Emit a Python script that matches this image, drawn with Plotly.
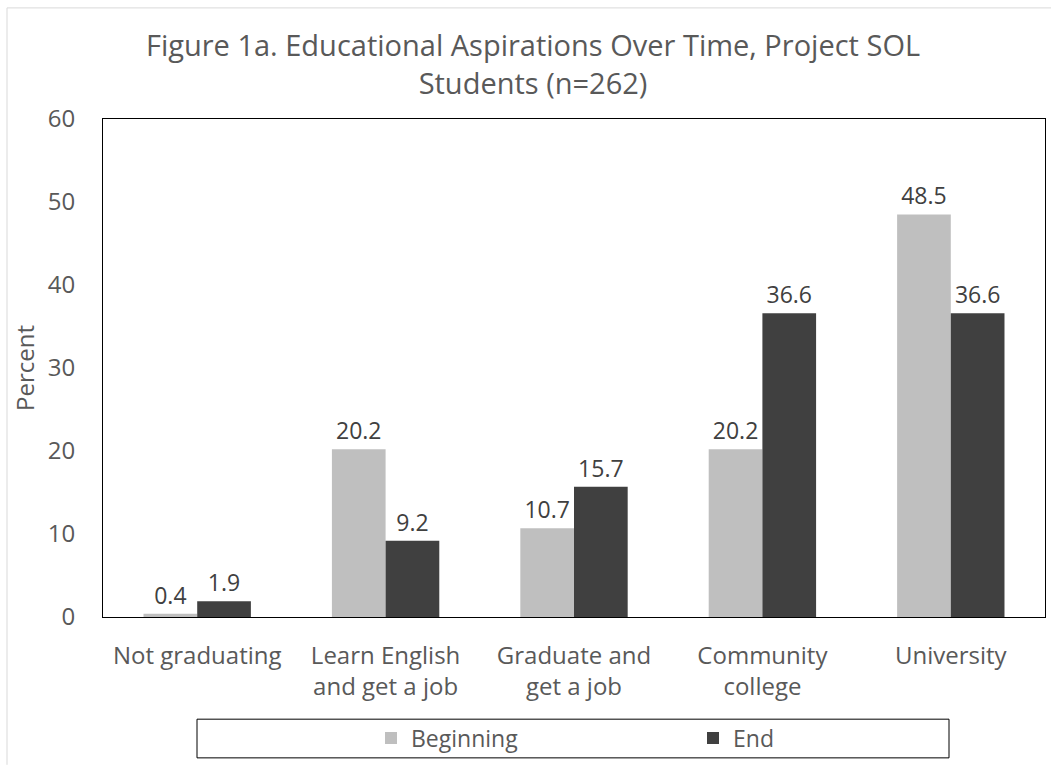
import plotly.graph_objects as go

categories = ["Not graduating", "Learn English<br>and get a job", "Graduate and<br>get a job",
              "Community<br>college", "University"]
beginning = [0.4, 20.2, 10.7, 20.2, 48.5]
end = [1.9, 9.2, 15.7, 36.6, 36.6]
series_names = ["Beginning", "End"]
colors = ["#BFBFBF", "#404040"]

W, H = 1051, 765
L, R, T, B = 103, 1045, 119, 621
pw, ph = R - L, B - T

def px(x):
    return (x - L) / pw

def py(y):
    return (B - y) / ph

FONT = "Open Sans"

fig = go.Figure()
for name, vals, c in zip(series_names, [beginning, end], colors):
    fig.add_trace(go.Bar(
        x=categories, y=vals, name=name, marker=dict(color=c, line=dict(width=0)),
        text=[f"{v:.1f}" for v in vals], textposition="outside",
        textfont=dict(family=FONT, size=23, color="#404040"), cliponaxis=False,
    ))

fig.update_layout(
    width=W, height=H,
    margin=dict(l=L, r=W - R, t=T, b=H - B),
    paper_bgcolor="white", plot_bgcolor="white",
    barmode="group", bargap=0.43, bargroupgap=0,
    title=dict(text="Figure 1a. Educational Aspirations Over Time, Project SOL<br>Students (n=262)",
               x=533 / W, xref="container", xanchor="center", y=1 - 56 / H, yanchor="middle",
               font=dict(family=FONT, size=29, color="#595959")),
    font=dict(family=FONT, color="#595959"),
    xaxis=dict(showline=True, linecolor="black", linewidth=1, mirror=True, ticks="",
               tickfont=dict(family=FONT, size=24, color="#595959"), ticklabelstandoff=17),
    yaxis=dict(range=[0, 60], dtick=10, showgrid=False, zeroline=False, showline=True,
               linecolor="black", linewidth=1, mirror=True, ticks="",
               tickfont=dict(family=FONT, size=24, color="#595959"), ticklabelstandoff=22,
               title=dict(text="Percent", font=dict(family=FONT, size=24, color="#595959"), standoff=6)),
    legend=dict(orientation="h", xanchor="left", x=px(371), yanchor="middle", y=py(743),
                font=dict(family=FONT, size=23, color="#595959"), entrywidth=277,
                bgcolor="rgba(0,0,0,0)", borderwidth=0, traceorder="normal"),
    shapes=[
        dict(type="rect", xref="paper", yref="paper", x0=px(197), x1=px(949), y0=py(763), y1=py(724),
             line=dict(color="black", width=1), fillcolor="rgba(0,0,0,0)", layer="below"),
        dict(type="line", xref="paper", yref="paper", x0=px(7), x1=px(W + 5), y0=py(7), y1=py(7),
             line=dict(color="#D9D9D9", width=1)),
        dict(type="line", xref="paper", yref="paper", x0=px(7), x1=px(7), y0=py(7), y1=py(H + 5),
             line=dict(color="#D9D9D9", width=1)),
    ],
)

fig.write_html("out.html", config={"displayModeBar": False},
               post_script="document.body.style.margin='0';")
